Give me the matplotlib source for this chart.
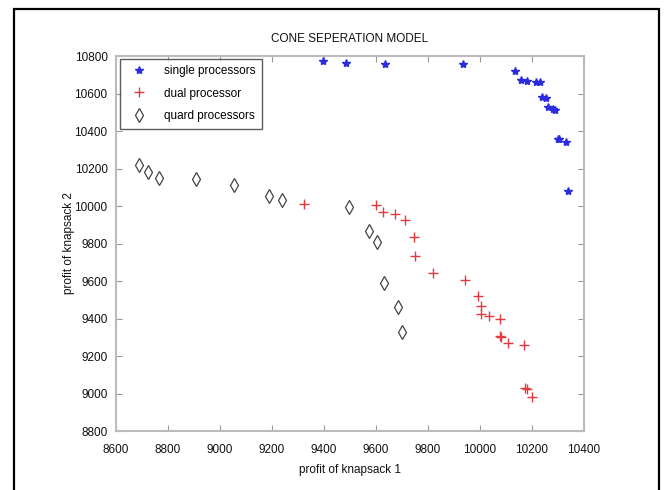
import matplotlib
matplotlib.use("Agg")
import matplotlib.pyplot as plt
from matplotlib.patches import Rectangle

plt.rcParams['font.family'] = ['Liberation Sans', 'DejaVu Sans']

# ---- data ----
single_x = [9396, 9485, 9633, 9936, 10136, 10159, 10181, 10215, 10232, 10238,
            10253, 10263, 10282, 10287, 10299, 10303, 10331, 10337]
single_y = [10771, 10763, 10757, 10757, 10720, 10673, 10668, 10661, 10661, 10582,
            10575, 10529, 10515, 10511, 10360, 10356, 10344, 10080]

dual_x = [9323, 9600, 9628, 9672, 9710, 9746, 9749, 9820, 9942, 9993, 10003,
          10003, 10033, 10077, 10077, 10082, 10108, 10168, 10172, 10180, 10201]
dual_y = [10010, 10008, 9969, 9957, 9924, 9833, 9736, 9641, 9604, 9518, 9465,
          9424, 9415, 9400, 9308, 9304, 9272, 9261, 9028, 9023, 8980]

quad_x = [8690, 8722, 8765, 8908, 9054, 9187, 9237, 9495, 9572, 9603, 9631,
          9685, 9700]
quad_y = [10217, 10183, 10151, 10144, 10112, 10055, 10030, 9994, 9868, 9807,
          9591, 9459, 9328]

labels = ["single processors", "dual processor", "quard processors"]
title = "CONE SEPERATION MODEL"
xlabel = "profit of knapsack 1"
ylabel = "profit of knapsack 2"
xticks = list(range(8600, 10401, 200))
yticks = list(range(8800, 10801, 200))

W, H = 666, 490
fig = plt.figure(figsize=(W / 100, H / 100), dpi=100)
fig.patch.set_facecolor('white')

# outer frame
fig.patches.append(Rectangle((14 / W, -0.05), (659 - 14) / W, 1 - 9 / H + 0.05,
                             transform=fig.transFigure, fill=False,
                             edgecolor='black', linewidth=1.6))

ax = fig.add_axes([116 / W, 1 - 431 / H, (584 - 116) / W, (431 - 56) / H])

ax.plot(single_x, single_y, linestyle='none', marker='*', markersize=6,
        color='#2b2be0', label=labels[0])
ax.plot(dual_x, dual_y, linestyle='none', marker='+', markersize=7,
        markeredgewidth=1.0, color='#e33a40', label=labels[1])
ax.plot(quad_x, quad_y, linestyle='none', marker='d', markersize=7,
        fillstyle='none', markeredgewidth=0.9, color='#444444', label=labels[2])

ax.set_xlim(8600, 10400)
ax.set_ylim(8800, 10800)
ax.set_xticks(xticks)
ax.set_yticks(yticks)
ax.tick_params(direction='in', length=4, width=0.8, color='#999999',
               top=True, right=True, labelsize=8.5, pad=6, labelcolor='#111111')
ax.tick_params(axis='x', pad=9)
for s in ax.spines.values():
    s.set_color('#bbbbbb')
    s.set_linewidth(1.5)

ax.set_title(title, fontsize=8.5, pad=10, color='#111111')
ax.set_xlabel(xlabel, fontsize=8.5, labelpad=6, color='#111111')
ax.set_ylabel(ylabel, fontsize=8.5, color='#111111')
ax.yaxis.set_label_coords(-0.087, 0.5)

leg = ax.legend(loc='upper left', bbox_to_anchor=(120 / W, 1 - 58.5 / H),
                bbox_transform=fig.transFigure, borderaxespad=0, numpoints=1,
                fontsize=8.5, frameon=True, fancybox=False, labelspacing=0.9,
                handlelength=2.2, handletextpad=1.0, borderpad=0.55)
leg.get_frame().set_edgecolor('#333333')
leg.get_frame().set_linewidth(1.0)

fig.savefig('out.png', dpi=100)
